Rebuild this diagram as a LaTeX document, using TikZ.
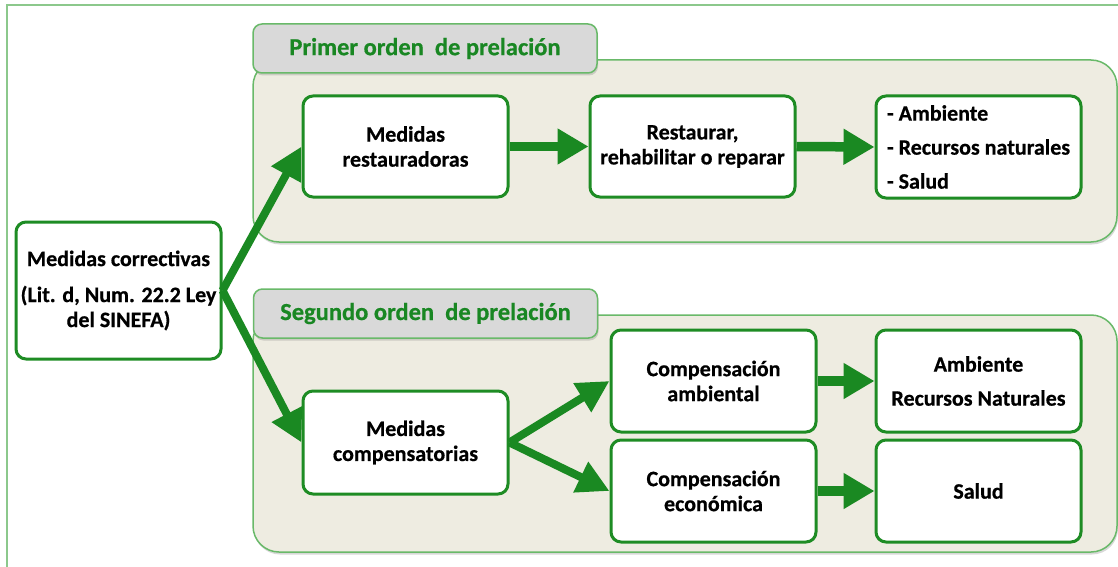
\documentclass[tikz,border=0pt]{standalone}
\usepackage{fontspec}
\setmainfont{Carlito}[BoldFeatures={FakeBold=0.6}]
\usetikzlibrary{arrows.meta,shadows}

\definecolor{boxgreen}{RGB}{30,140,36}
\definecolor{arrowgreen}{RGB}{26,137,34}
\definecolor{panelfill}{RGB}{238,236,225}
\definecolor{panelline}{RGB}{105,185,105}
\definecolor{tabfill}{RGB}{217,217,217}
\definecolor{tabtext}{RGB}{25,135,35}
\definecolor{framegreen}{RGB}{140,200,140}

\tikzset{
  box/.style={draw=boxgreen, line width=3pt, fill=white, rounded corners=10pt,
    minimum width=205pt, minimum height=102pt, inner sep=0pt, align=center,
    font=\fontsize{22}{25}\selectfont\bfseries},
  panel/.style={draw=panelline, line width=1.5pt, fill=panelfill, rounded corners=26pt,
    drop shadow={opacity=0.3, shadow xshift=1pt, shadow yshift=-2.5pt}},
  tab/.style={draw=panelline, line width=1.5pt, fill=tabfill, rounded corners=9pt,
    minimum width=344pt, minimum height=49pt, inner sep=0pt, text=tabtext,
    font=\fontsize{24.5}{28}\selectfont\bfseries,
    drop shadow={opacity=0.3, shadow xshift=1pt, shadow yshift=-2.5pt}},
  bigarrow/.style={draw=arrowgreen, line width=9.5pt, -{Triangle[length=31pt,width=34pt]}},
  slantarrow/.style={draw=arrowgreen, line width=8pt, -{Triangle[length=32pt,width=32pt]}},
}

\begin{document}
\begin{tikzpicture}[x=1pt, y=-1pt]

\useasboundingbox (0,0) rectangle (1118,567);
\fill [white] (0,0) rectangle (1118,567);

% FRAME
\draw [framegreen, line width=1.5pt] (7,567) -- (7,5) -- (1118,5);

% PANELS
\path [panel] (253,60) rectangle (1117,242);
\path [panel] (253,315) rectangle (1117,552);
\node [tab] (tabone) at (425,48.5) {Primer orden\ \ de prelación};
\node [tab] (tabtwo) at (425.5,313.5) {Segundo orden\ \ de prelación};

% BOXES
\node [box, minimum height=137pt] (correct) at (118.5,290.5)
  {Medidas correctivas\\[11pt](Lit. d, Num. 22.2 Ley\\del SINEFA)};
\node [box, minimum height=101pt] (restaur) at (405.5,146.5) {Medidas\\restauradoras};
\node [box, minimum height=101pt] (reparar) at (692.5,146.5) {Restaurar,\\rehabilitar o reparar};
\node [box, align=left] (bienes) at (978.5,147)
  {- Ambiente\\[9pt]- Recursos naturales\\[9pt]- Salud};
\node [box, minimum height=103pt] (compens) at (405.5,442.5) {Medidas\\compensatorias};
\node [box] (ambient) at (713.5,381) {Compensación\\ambiental};
\node [box] (economi) at (713.5,491) {Compensación\\económica};
\node [box] (recnat) at (978.5,381) {Ambiente\\[9pt]Recursos Naturales};
\node [box] (salud) at (978.5,491) {Salud};

% ARROWS
\draw [slantarrow] (correct.east) -- (restaur.west);
\draw [slantarrow] (correct.east) -- (compens.west);
\draw [bigarrow] (restaur.east) -- (reparar.west);
\draw [bigarrow] (reparar.east) -- (bienes.west);
\draw [slantarrow] (compens.east) -- (ambient.west);
\draw [slantarrow] (compens.east) -- (economi.west);
\draw [bigarrow] (ambient.east) -- (recnat.west);
\draw [bigarrow] (economi.east) -- (salud.west);

\end{tikzpicture}
\end{document}
